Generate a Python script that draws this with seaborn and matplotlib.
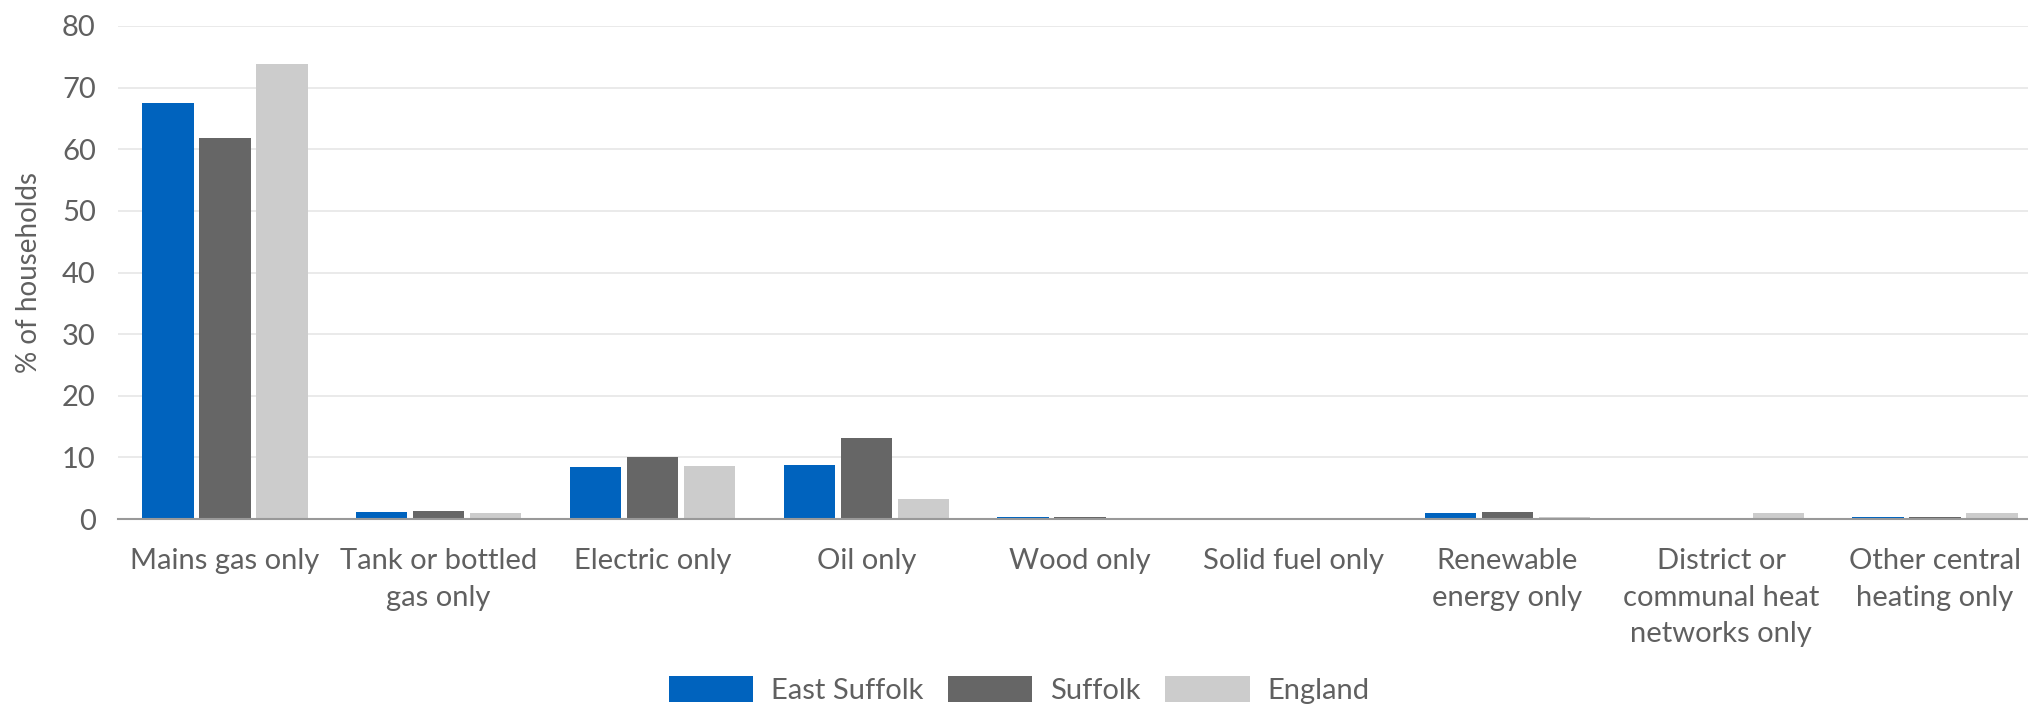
import pandas as pd
import matplotlib.pyplot as plt
import seaborn as sns

# --- DATA ---
categories = ["Mains gas only", "Tank or bottled\ngas only", "Electric only", "Oil only",
              "Wood only", "Solid fuel only", "Renewable\nenergy only",
              "District or\ncommunal heat\nnetworks only", "Other central\nheating only"]
east_suffolk = [67.5, 1.2, 8.5, 8.7, 0.3, 0.05, 1.0, 0.05, 0.3]
suffolk = [61.9, 1.3, 10.1, 13.2, 0.3, 0.05, 1.1, 0.2, 0.4]
england = [73.9, 0.9, 8.6, 3.2, 0.05, 0.05, 0.3, 0.9, 0.9]
series = ["East Suffolk", "Suffolk", "England"]
colors = ["#0063be", "#666666", "#cccccc"]

df = pd.DataFrame({
    "category": categories * 3,
    "value": east_suffolk + suffolk + england,
    "area": [s for s in series for _ in categories],
})

sns.set_style("white")
plt.rcParams['font.family'] = ['Lato', 'DejaVu Sans']
text_col = "#606060"
fs = 21

fig = plt.figure(figsize=(20.28, 7.05), dpi=100)
ax = fig.add_axes([118 / 2028, 1 - 519 / 705, 1924 / 2028, 493 / 705])

sns.barplot(data=df, x="category", y="value", hue="area", order=categories,
            hue_order=series, palette=colors, width=0.8, gap=0.1,
            linewidth=0, saturation=1, ax=ax)

ax.set_ylim(0, 80)
ax.set_xlim(-0.5, len(categories) - 0.5)
ax.set_yticks(range(0, 81, 10))
ax.yaxis.grid(True, color="#e6e6e6", linewidth=1.2)
ax.set_axisbelow(True)
for side in ["top", "right", "left"]:
    ax.spines[side].set_visible(False)
ax.spines["bottom"].set_color("#999999")
ax.spines["bottom"].set_linewidth(1.5)

ax.tick_params(axis="y", length=12, width=1.2, color="#e6e6e6", labelsize=fs,
               labelcolor=text_col, pad=4)
ax.tick_params(axis="x", length=8, width=1.2, color="#999999", labelsize=fs,
               labelcolor=text_col, pad=13)
for lbl in ax.get_xticklabels():
    lbl.set_multialignment("center")
    lbl.set_linespacing(1.5)

ax.set_xlabel("")
ax.set_ylabel("% of households", fontsize=20, color=text_col, labelpad=14)

ax.legend(loc="lower center", bbox_to_anchor=(1019 / 2028, -0.019), bbox_transform=fig.transFigure,
          ncol=3, frameon=False, fontsize=fs, labelcolor=text_col,
          handlelength=2.9, handleheight=1.0, handletextpad=0.6, columnspacing=0.85,
          borderpad=0.0)

fig.savefig("out.png", dpi=100)
